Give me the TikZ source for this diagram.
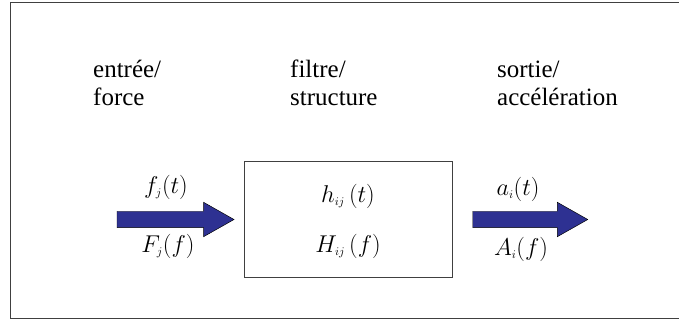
\documentclass[tikz,border=0pt]{standalone}
\usepackage{fontspec}
\setmainfont{Liberation Serif}
\usepackage{xcolor}
\usepackage{tikz}
\usetikzlibrary{positioning, shapes.arrows}
\definecolor{flowblue}{HTML}{2E3192}
\definecolor{framegray}{HTML}{404040}

\begin{document}
\begin{tikzpicture}[
    x=0.03cm, y=-0.03cm,
    node distance=0.3cm,
    heading/.style={anchor=base west, align=left, inner sep=0pt, font=\rmfamily\fontsize{21.3}{24.6}\selectfont},
    signal/.style={inner sep=0pt, font=\fontsize{20.5}{24}\selectfont},
    system/.style={draw=framegray, line width=0.03cm, minimum width=6.21cm, minimum height=3.45cm, inner sep=0pt},
    flow/.style={single arrow, draw=black, line width=0.4pt, fill=flowblue, inner xsep=0pt, inner ysep=0.24cm, minimum width=1.02cm, single arrow head extend=0.27cm, single arrow tip angle=59},
    frame/.style={draw=framegray, line width=0.03cm}
]
\useasboundingbox (0,0) rectangle (679,320);
\draw[frame] (10,3) rectangle (700,318);
% headings (anchored on the last line)
\node[heading] (entree) at (93,106) {entrée/\\force};
\node[heading] (filtre) at (290,106) {filtre/\\structure};
\node[heading] (sortie) at (497,106) {sortie/\\accélération};
% system block
\node[system] (box) at (348.5,219.5) {};
\node[signal] (hij) at (348,196) {$h_{\scriptscriptstyle ij}\,(t)$};
\node[signal] (Hij) at (348,246) {$H_{\scriptscriptstyle ij}\,(f)$};
% input and output
\node[flow, minimum height=3.51cm, left=of box] (input) {};
\node[flow, minimum height=3.45cm, right=0.6cm of box] (output) {};
\node[signal] (fj) at (166,187) {$f_{\scriptscriptstyle j}(t)$};
\node[signal] (Fj) at (168,246) {$F_{\scriptscriptstyle j}(f)$};
\node[signal] (ai) at (518,189) {$a_{\scriptscriptstyle i}(t)$};
\node[signal] (Ai) at (521,249) {$A_{\scriptscriptstyle i}(f)$};
\end{tikzpicture}
\end{document}
